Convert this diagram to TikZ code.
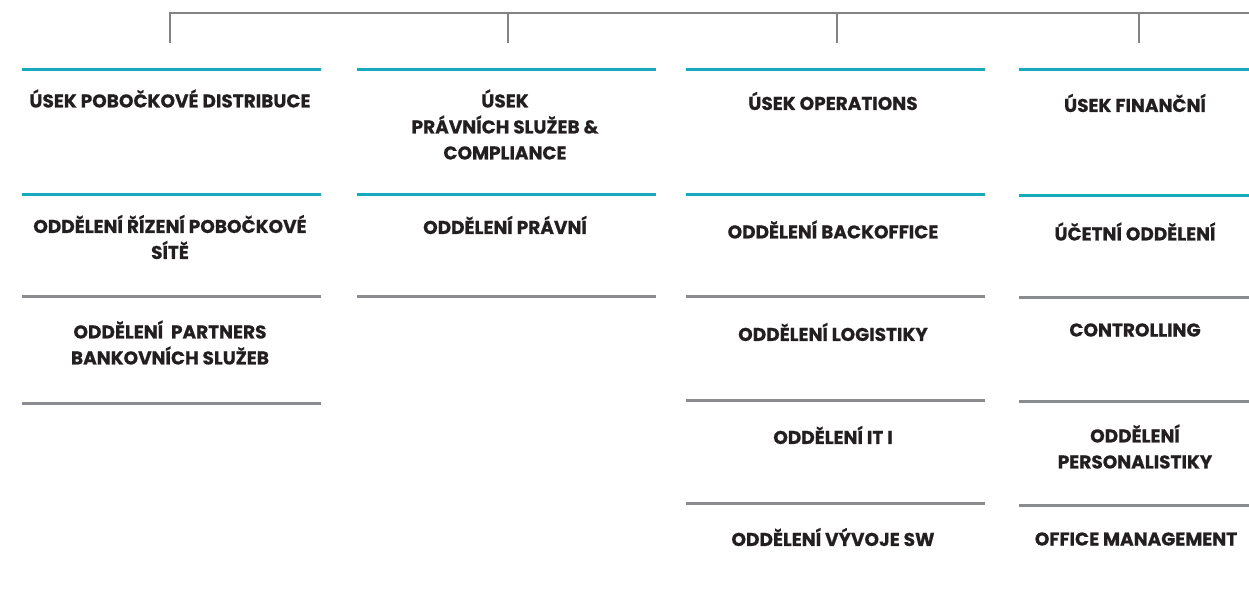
\documentclass[tikz,border=0pt]{standalone}
\usepackage{fontspec}
\setmainfont{Poppins}[BoldFont={* Bold}, BoldFeatures={FakeBold=0.6}]
\definecolor{teal1}{HTML}{17A9BC}
\definecolor{grey1}{HTML}{8A8B8E}
\definecolor{grey2}{HTML}{838386}
\definecolor{ink}{HTML}{231F20}
\begin{document}
\begin{tikzpicture}[x=1pt,y=-1pt,
  lbl/.style={font=\bfseries\fontsize{18.5}{26}\selectfont, text=ink, align=center, inner sep=0pt},
  tealline/.style={draw=teal1, line width=3pt},
  greyline/.style={draw=grey1, line width=3pt},
  bracket/.style={draw=grey2, line width=2.8pt}]
\useasboundingbox (0,0) rectangle (1249,601);
% top bracket
\coordinate (b1) at (170,43);
\coordinate (b2) at (508,43);
\coordinate (b3) at (837,43);
\coordinate (b4) at (1139,43);
\coordinate (t1) at (170,13);
\coordinate (tr) at (1249,13);
\draw[bracket] (b1) -- (t1) -- (tr);
\draw[bracket] (b2) -- (b2 |- t1);
\draw[bracket] (b3) -- (b3 |- t1);
\draw[bracket] (b4) -- (b4 |- t1);
% column 1
\draw[tealline] (22,70) -- (321,70);
\draw[tealline] (22,195) -- (321,195);
\draw[greyline] (22,297) -- (321,297);
\draw[greyline] (22,403) -- (321,403);
\node[lbl] (c1a) at (170,98.5) {ÚSEK POBOČKOVÉ DISTRIBUCE};
\node[lbl] (c1b) at (170,237) {ODDĚLENÍ ŘÍZENÍ POBOČKOVÉ\\SÍTĚ};
\node[lbl] (c1c) at (170,342.5) {ODDĚLENÍ~ PARTNERS\\BANKOVNÍCH SLUŽEB};
% column 2
\draw[tealline] (357,70) -- (656,70);
\draw[tealline] (357,195) -- (656,195);
\draw[greyline] (357,297) -- (656,297);
\node[lbl] (c2a) at (505,124.5) {ÚSEK\\PRÁVNÍCH SLUŽEB \&\\COMPLIANCE};
\node[lbl] (c2b) at (505,225) {ODDĚLENÍ PRÁVNÍ};
% column 3
\draw[tealline] (686,70) -- (985,70);
\draw[tealline] (686,195) -- (985,195);
\draw[greyline] (686,297) -- (985,297);
\draw[greyline] (686,400) -- (985,400);
\draw[greyline] (686,503) -- (985,503);
\node[lbl] (c3a) at (833,101) {ÚSEK OPERATIONS};
\node[lbl] (c3b) at (833,229.5) {ODDĚLENÍ BACKOFFICE};
\node[lbl] (c3c) at (833,332) {ODDĚLENÍ LOGISTIKY};
\node[lbl] (c3d) at (833,435) {ODDĚLENÍ IT I};
\node[lbl] (c3e) at (833,537) {ODDĚLENÍ VÝVOJE SW};
% column 4
\draw[tealline] (1019,70) -- (1249,70);
\draw[tealline] (1019,196) -- (1249,196);
\draw[greyline] (1019,298) -- (1249,298);
\draw[greyline] (1019,401) -- (1249,401);
\draw[greyline] (1019,505) -- (1249,505);
\node[lbl] (c4a) at (1135,103) {ÚSEK FINANČNÍ};
\node[lbl] (c4b) at (1135,231.5) {ÚČETNÍ ODDĚLENÍ};
\node[lbl] (c4c) at (1135,330) {CONTROLLING};
\node[lbl] (c4d) at (1135,446.5) {ODDĚLENÍ\\PERSONALISTIKY};
\node[lbl] (c4e) at (1136,539) {OFFICE MANAGEMENT};
\end{tikzpicture}
\end{document}
